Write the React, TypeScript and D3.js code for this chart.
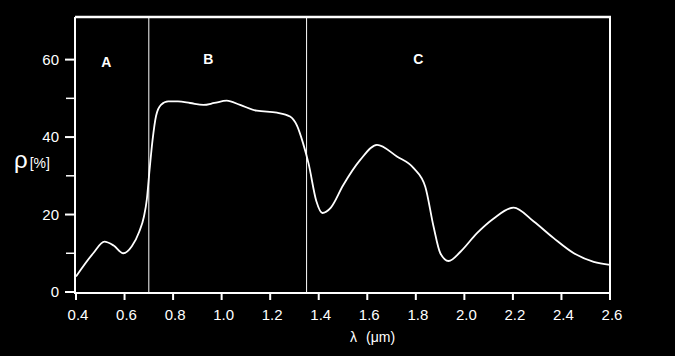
import React from "react";
import * as d3 from "d3";

const wavelength = [0.4, 0.471, 0.517, 0.555, 0.595, 0.63, 0.66, 0.68, 0.692, 0.703, 0.715, 0.73, 0.75, 0.78, 0.82, 0.87, 0.925, 0.97, 1.021, 1.076, 1.145, 1.228, 1.282, 1.31, 1.335, 1.358, 1.39, 1.415, 1.45, 1.5, 1.571, 1.64, 1.722, 1.791, 1.839, 1.873, 1.901, 1.935, 1.984, 2.052, 2.121, 2.203, 2.286, 2.368, 2.451, 2.533, 2.6];
const reflectance = [4.0, 10, 13.0, 12.0, 10.0, 11.8, 15.5, 19.5, 24, 31.5, 39, 45.5, 48.3, 49.2, 49.2, 48.8, 48.3, 48.8, 49.4, 48.3, 46.8, 46.3, 45.3, 43, 38.5, 33.2, 23.5, 20.4, 21.8, 27.5, 34.1, 38.0, 35, 32, 27.2, 16.9, 10, 8.0, 10.4, 15.2, 19, 21.8, 18.2, 13.9, 10, 7.8, 7.0];
const xTicks = [0.4, 0.6, 0.8, 1.0, 1.2, 1.4, 1.6, 1.8, 2.0, 2.2, 2.4, 2.6];
const yMajor = [0, 20, 40, 60];
const yMinor = [10, 30, 50];
const boundaries = [0.7, 1.35];
const regionLabels = ["A", "B", "C"];
const regionCenters = [0.525, 0.945, 1.81];

export default function App() {
  const W = 675, H = 356;
  const left = 76, right = 610, top = 17, bottom = 292;
  const x = d3.scaleLinear().domain([0.4, 2.6]).range([left, right]);
  const y = d3.scaleLinear().domain([0, 71]).range([bottom, top]);
  const line = d3
    .line<number>()
    .x((_, i) => x(wavelength[i]))
    .y((d) => y(d))
    .curve(d3.curveMonotoneX);
  const font = "'Liberation Sans', Arial, sans-serif";
  return (
    <svg width={W} height={H} style={{ position: "absolute", left: 0, top: 0 }} fontFamily={font}>
      <rect x={0} y={0} width={W} height={H} fill="#000" />
      <line x1={left - 1} x2={right + 1} y1={top} y2={top} stroke="#fff" strokeWidth={2.5} />
      <line x1={right} x2={right} y1={top} y2={bottom + 2} stroke="#fff" strokeWidth={2} />
      <line x1={left - 1} x2={left - 1} y1={top} y2={bottom + 2} stroke="#fff" strokeWidth={2} />
      <line x1={left - 2} x2={right + 1} y1={bottom + 1} y2={bottom + 1} stroke="#fff" strokeWidth={2} />
      {boundaries.map((b) => (
        <line key={b} x1={x(b)} x2={x(b)} y1={top} y2={bottom} stroke="#fff" strokeWidth={1} />
      ))}
      {regionLabels.map((t, i) => (
        <text key={t} x={x(regionCenters[i])} y={i === 0 ? 67 : 64} fill="#fff" fontSize={14} fontWeight="bold" textAnchor="middle">
          {t}
        </text>
      ))}
      {yMajor.map((v) => (
        <g key={v}>
          <line x1={left - 11} x2={left - 1} y1={y(v)} y2={y(v)} stroke="#fff" strokeWidth={2} />
          <text x={left - 17} y={y(v)} dy="0.36em" fill="#fff" fontSize={15} textAnchor="end">
            {v}
          </text>
        </g>
      ))}
      {yMinor.map((v) => (
        <line key={v} x1={left - 10} x2={left - 1} y1={y(v)} y2={y(v)} stroke="#fff" strokeWidth={1.5} />
      ))}
      {xTicks.map((v) => (
        <g key={v}>
          <line x1={x(v)} x2={x(v)} y1={bottom + 1} y2={bottom + 8} stroke="#fff" strokeWidth={2} />
          <text x={x(v) + 2} y={320} fill="#fff" fontSize={15} textAnchor="middle">
            {v.toFixed(1)}
          </text>
        </g>
      ))}
      <text x={350} y={342} fill="#fff" fontSize={14}>
        λ
        <tspan dx={9}>(μm)</tspan>
      </text>
      <text x={14} y={168} fill="#fff">
        <tspan fontSize={24}>ρ</tspan>
        <tspan fontSize={14} dx={2}>[%]</tspan>
      </text>
      <path d={line(reflectance) || ""} fill="none" stroke="#fff" strokeWidth={1.8} />
    </svg>
  );
}
